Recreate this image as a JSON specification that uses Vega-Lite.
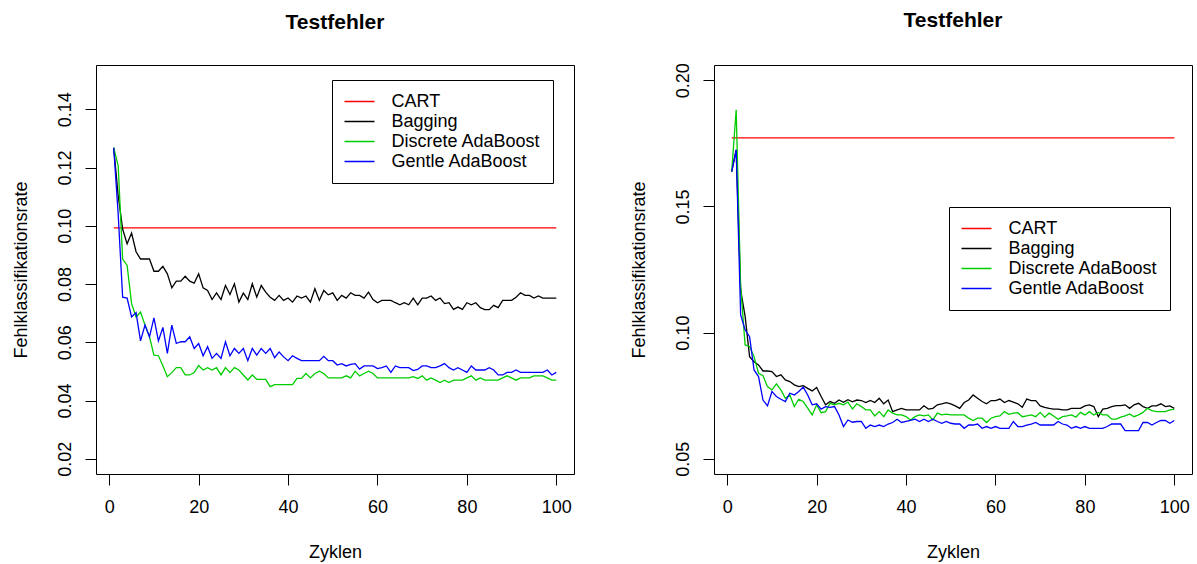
{
  "$schema": "https://vega.github.io/schema/vega-lite/v6.json",
  "background": "white",
  "padding": {"left": 11, "top": 9, "right": 0, "bottom": 0},
  "spacing": 54,
  "datasets": {
    "links": [
      {"Zyklen":1,"CART":0.0993,"Bagging":0.1268,"Discrete AdaBoost":0.1268,"Gentle AdaBoost":0.1268},
      {"Zyklen":2,"CART":0.0993,"Bagging":0.1103,"Discrete AdaBoost":0.1206,"Gentle AdaBoost":0.104},
      {"Zyklen":3,"CART":0.0993,"Bagging":0.0989,"Discrete AdaBoost":0.0886,"Gentle AdaBoost":0.0755},
      {"Zyklen":4,"CART":0.0993,"Bagging":0.0938,"Discrete AdaBoost":0.0864,"Gentle AdaBoost":0.0752},
      {"Zyklen":5,"CART":0.0993,"Bagging":0.0975,"Discrete AdaBoost":0.0733,"Gentle AdaBoost":0.0687},
      {"Zyklen":6,"CART":0.0993,"Bagging":0.0911,"Discrete AdaBoost":0.0687,"Gentle AdaBoost":0.0702},
      {"Zyklen":7,"CART":0.0993,"Bagging":0.0886,"Discrete AdaBoost":0.0704,"Gentle AdaBoost":0.0605},
      {"Zyklen":8,"CART":0.0993,"Bagging":0.0886,"Discrete AdaBoost":0.0659,"Gentle AdaBoost":0.0659},
      {"Zyklen":9,"CART":0.0993,"Bagging":0.0886,"Discrete AdaBoost":0.0619,"Gentle AdaBoost":0.0619},
      {"Zyklen":10,"CART":0.0993,"Bagging":0.0844,"Discrete AdaBoost":0.0556,"Gentle AdaBoost":0.0684},
      {"Zyklen":11,"CART":0.0993,"Bagging":0.0844,"Discrete AdaBoost":0.0554,"Gentle AdaBoost":0.0605},
      {"Zyklen":12,"CART":0.0993,"Bagging":0.0861,"Discrete AdaBoost":0.0520,"Gentle AdaBoost":0.0651},
      {"Zyklen":13,"CART":0.0993,"Bagging":0.0835,"Discrete AdaBoost":0.0482,"Gentle AdaBoost":0.0562},
      {"Zyklen":14,"CART":0.0993,"Bagging":0.0787,"Discrete AdaBoost":0.0496,"Gentle AdaBoost":0.0659},
      {"Zyklen":15,"CART":0.0993,"Bagging":0.0810,"Discrete AdaBoost":0.0513,"Gentle AdaBoost":0.0596},
      {"Zyklen":16,"CART":0.0993,"Bagging":0.0810,"Discrete AdaBoost":0.0513,"Gentle AdaBoost":0.0602},
      {"Zyklen":17,"CART":0.0993,"Bagging":0.0827,"Discrete AdaBoost":0.0488,"Gentle AdaBoost":0.0602},
      {"Zyklen":18,"CART":0.0993,"Bagging":0.0810,"Discrete AdaBoost":0.0488,"Gentle AdaBoost":0.0619},
      {"Zyklen":19,"CART":0.0993,"Bagging":0.0803,"Discrete AdaBoost":0.0496,"Gentle AdaBoost":0.0579},
      {"Zyklen":20,"CART":0.0993,"Bagging":0.0835,"Discrete AdaBoost":0.0520,"Gentle AdaBoost":0.0596},
      {"Zyklen":21,"CART":0.0993,"Bagging":0.0787,"Discrete AdaBoost":0.0505,"Gentle AdaBoost":0.0554},
      {"Zyklen":22,"CART":0.0993,"Bagging":0.0778,"Discrete AdaBoost":0.0513,"Gentle AdaBoost":0.0585},
      {"Zyklen":23,"CART":0.0993,"Bagging":0.0747,"Discrete AdaBoost":0.0505,"Gentle AdaBoost":0.0545},
      {"Zyklen":24,"CART":0.0993,"Bagging":0.0770,"Discrete AdaBoost":0.0513,"Gentle AdaBoost":0.0562},
      {"Zyklen":25,"CART":0.0993,"Bagging":0.0747,"Discrete AdaBoost":0.0488,"Gentle AdaBoost":0.0545},
      {"Zyklen":26,"CART":0.0993,"Bagging":0.0795,"Discrete AdaBoost":0.0513,"Gentle AdaBoost":0.0602},
      {"Zyklen":27,"CART":0.0993,"Bagging":0.0764,"Discrete AdaBoost":0.0496,"Gentle AdaBoost":0.0554},
      {"Zyklen":28,"CART":0.0993,"Bagging":0.0801,"Discrete AdaBoost":0.0513,"Gentle AdaBoost":0.0579},
      {"Zyklen":29,"CART":0.0993,"Bagging":0.0738,"Discrete AdaBoost":0.0505,"Gentle AdaBoost":0.0562},
      {"Zyklen":30,"CART":0.0993,"Bagging":0.0769,"Discrete AdaBoost":0.0488,"Gentle AdaBoost":0.0579},
      {"Zyklen":31,"CART":0.0993,"Bagging":0.0747,"Discrete AdaBoost":0.0471,"Gentle AdaBoost":0.0537},
      {"Zyklen":32,"CART":0.0993,"Bagging":0.0801,"Discrete AdaBoost":0.0488,"Gentle AdaBoost":0.0579},
      {"Zyklen":33,"CART":0.0993,"Bagging":0.0755,"Discrete AdaBoost":0.0473,"Gentle AdaBoost":0.0556},
      {"Zyklen":34,"CART":0.0993,"Bagging":0.0795,"Discrete AdaBoost":0.0473,"Gentle AdaBoost":0.0579},
      {"Zyklen":35,"CART":0.0993,"Bagging":0.0772,"Discrete AdaBoost":0.0473,"Gentle AdaBoost":0.0562},
      {"Zyklen":36,"CART":0.0993,"Bagging":0.0755,"Discrete AdaBoost":0.0448,"Gentle AdaBoost":0.0579},
      {"Zyklen":37,"CART":0.0993,"Bagging":0.0744,"Discrete AdaBoost":0.0455,"Gentle AdaBoost":0.0547},
      {"Zyklen":38,"CART":0.0993,"Bagging":0.0761,"Discrete AdaBoost":0.0455,"Gentle AdaBoost":0.0567},
      {"Zyklen":39,"CART":0.0993,"Bagging":0.0744,"Discrete AdaBoost":0.0455,"Gentle AdaBoost":0.0550},
      {"Zyklen":40,"CART":0.0993,"Bagging":0.0752,"Discrete AdaBoost":0.0455,"Gentle AdaBoost":0.0537},
      {"Zyklen":41,"CART":0.0993,"Bagging":0.0738,"Discrete AdaBoost":0.0455,"Gentle AdaBoost":0.0554},
      {"Zyklen":42,"CART":0.0993,"Bagging":0.0759,"Discrete AdaBoost":0.0476,"Gentle AdaBoost":0.0545},
      {"Zyklen":43,"CART":0.0993,"Bagging":0.0752,"Discrete AdaBoost":0.0476,"Gentle AdaBoost":0.0537},
      {"Zyklen":44,"CART":0.0993,"Bagging":0.0759,"Discrete AdaBoost":0.0493,"Gentle AdaBoost":0.0537},
      {"Zyklen":45,"CART":0.0993,"Bagging":0.0738,"Discrete AdaBoost":0.0478,"Gentle AdaBoost":0.0537},
      {"Zyklen":46,"CART":0.0993,"Bagging":0.0784,"Discrete AdaBoost":0.0493,"Gentle AdaBoost":0.0537},
      {"Zyklen":47,"CART":0.0993,"Bagging":0.0744,"Discrete AdaBoost":0.0501,"Gentle AdaBoost":0.0537},
      {"Zyklen":48,"CART":0.0993,"Bagging":0.0778,"Discrete AdaBoost":0.0493,"Gentle AdaBoost":0.0552},
      {"Zyklen":49,"CART":0.0993,"Bagging":0.0763,"Discrete AdaBoost":0.0478,"Gentle AdaBoost":0.0537},
      {"Zyklen":50,"CART":0.0993,"Bagging":0.0770,"Discrete AdaBoost":0.0478,"Gentle AdaBoost":0.0537},
      {"Zyklen":51,"CART":0.0993,"Bagging":0.0744,"Discrete AdaBoost":0.0478,"Gentle AdaBoost":0.0522},
      {"Zyklen":52,"CART":0.0993,"Bagging":0.0761,"Discrete AdaBoost":0.0478,"Gentle AdaBoost":0.0527},
      {"Zyklen":53,"CART":0.0993,"Bagging":0.0752,"Discrete AdaBoost":0.0485,"Gentle AdaBoost":0.0519},
      {"Zyklen":54,"CART":0.0993,"Bagging":0.0770,"Discrete AdaBoost":0.0478,"Gentle AdaBoost":0.0524},
      {"Zyklen":55,"CART":0.0993,"Bagging":0.0761,"Discrete AdaBoost":0.0501,"Gentle AdaBoost":0.0527},
      {"Zyklen":56,"CART":0.0993,"Bagging":0.0761,"Discrete AdaBoost":0.0485,"Gentle AdaBoost":0.0508},
      {"Zyklen":57,"CART":0.0993,"Bagging":0.0752,"Discrete AdaBoost":0.0493,"Gentle AdaBoost":0.0519},
      {"Zyklen":58,"CART":0.0993,"Bagging":0.0772,"Discrete AdaBoost":0.0501,"Gentle AdaBoost":0.0519},
      {"Zyklen":59,"CART":0.0993,"Bagging":0.0747,"Discrete AdaBoost":0.0493,"Gentle AdaBoost":0.0519},
      {"Zyklen":60,"CART":0.0993,"Bagging":0.0736,"Discrete AdaBoost":0.0478,"Gentle AdaBoost":0.0510},
      {"Zyklen":61,"CART":0.0993,"Bagging":0.0744,"Discrete AdaBoost":0.0478,"Gentle AdaBoost":0.0513},
      {"Zyklen":62,"CART":0.0993,"Bagging":0.0744,"Discrete AdaBoost":0.0478,"Gentle AdaBoost":0.0519},
      {"Zyklen":63,"CART":0.0993,"Bagging":0.0744,"Discrete AdaBoost":0.0478,"Gentle AdaBoost":0.0497},
      {"Zyklen":64,"CART":0.0993,"Bagging":0.0736,"Discrete AdaBoost":0.0478,"Gentle AdaBoost":0.0519},
      {"Zyklen":65,"CART":0.0993,"Bagging":0.0729,"Discrete AdaBoost":0.0478,"Gentle AdaBoost":0.0513},
      {"Zyklen":66,"CART":0.0993,"Bagging":0.0736,"Discrete AdaBoost":0.0478,"Gentle AdaBoost":0.0513},
      {"Zyklen":67,"CART":0.0993,"Bagging":0.0729,"Discrete AdaBoost":0.0478,"Gentle AdaBoost":0.0513},
      {"Zyklen":68,"CART":0.0993,"Bagging":0.0752,"Discrete AdaBoost":0.0482,"Gentle AdaBoost":0.0503},
      {"Zyklen":69,"CART":0.0993,"Bagging":0.0729,"Discrete AdaBoost":0.0476,"Gentle AdaBoost":0.0507},
      {"Zyklen":70,"CART":0.0993,"Bagging":0.0752,"Discrete AdaBoost":0.0485,"Gentle AdaBoost":0.0519},
      {"Zyklen":71,"CART":0.0993,"Bagging":0.0752,"Discrete AdaBoost":0.0470,"Gentle AdaBoost":0.0519},
      {"Zyklen":72,"CART":0.0993,"Bagging":0.0759,"Discrete AdaBoost":0.0478,"Gentle AdaBoost":0.0513},
      {"Zyklen":73,"CART":0.0993,"Bagging":0.0744,"Discrete AdaBoost":0.0470,"Gentle AdaBoost":0.0513},
      {"Zyklen":74,"CART":0.0993,"Bagging":0.0752,"Discrete AdaBoost":0.0462,"Gentle AdaBoost":0.0519},
      {"Zyklen":75,"CART":0.0993,"Bagging":0.0733,"Discrete AdaBoost":0.0470,"Gentle AdaBoost":0.0527},
      {"Zyklen":76,"CART":0.0993,"Bagging":0.0736,"Discrete AdaBoost":0.0462,"Gentle AdaBoost":0.0513},
      {"Zyklen":77,"CART":0.0993,"Bagging":0.0713,"Discrete AdaBoost":0.0470,"Gentle AdaBoost":0.0505},
      {"Zyklen":78,"CART":0.0993,"Bagging":0.0721,"Discrete AdaBoost":0.0470,"Gentle AdaBoost":0.0513},
      {"Zyklen":79,"CART":0.0993,"Bagging":0.0713,"Discrete AdaBoost":0.0470,"Gentle AdaBoost":0.0505},
      {"Zyklen":80,"CART":0.0993,"Bagging":0.0736,"Discrete AdaBoost":0.0478,"Gentle AdaBoost":0.0497},
      {"Zyklen":81,"CART":0.0993,"Bagging":0.0729,"Discrete AdaBoost":0.0485,"Gentle AdaBoost":0.0519},
      {"Zyklen":82,"CART":0.0993,"Bagging":0.0736,"Discrete AdaBoost":0.0470,"Gentle AdaBoost":0.0505},
      {"Zyklen":83,"CART":0.0993,"Bagging":0.0719,"Discrete AdaBoost":0.0478,"Gentle AdaBoost":0.0505},
      {"Zyklen":84,"CART":0.0993,"Bagging":0.0712,"Discrete AdaBoost":0.0470,"Gentle AdaBoost":0.0505},
      {"Zyklen":85,"CART":0.0993,"Bagging":0.0712,"Discrete AdaBoost":0.0470,"Gentle AdaBoost":0.0513},
      {"Zyklen":86,"CART":0.0993,"Bagging":0.0727,"Discrete AdaBoost":0.0470,"Gentle AdaBoost":0.0505},
      {"Zyklen":87,"CART":0.0993,"Bagging":0.0719,"Discrete AdaBoost":0.0470,"Gentle AdaBoost":0.0488},
      {"Zyklen":88,"CART":0.0993,"Bagging":0.0744,"Discrete AdaBoost":0.0478,"Gentle AdaBoost":0.0488},
      {"Zyklen":89,"CART":0.0993,"Bagging":0.0744,"Discrete AdaBoost":0.0485,"Gentle AdaBoost":0.0497},
      {"Zyklen":90,"CART":0.0993,"Bagging":0.0744,"Discrete AdaBoost":0.0478,"Gentle AdaBoost":0.0497},
      {"Zyklen":91,"CART":0.0993,"Bagging":0.0755,"Discrete AdaBoost":0.0470,"Gentle AdaBoost":0.0505},
      {"Zyklen":92,"CART":0.0993,"Bagging":0.0770,"Discrete AdaBoost":0.0478,"Gentle AdaBoost":0.0497},
      {"Zyklen":93,"CART":0.0993,"Bagging":0.0761,"Discrete AdaBoost":0.0478,"Gentle AdaBoost":0.0497},
      {"Zyklen":94,"CART":0.0993,"Bagging":0.0761,"Discrete AdaBoost":0.0478,"Gentle AdaBoost":0.0497},
      {"Zyklen":95,"CART":0.0993,"Bagging":0.0752,"Discrete AdaBoost":0.0485,"Gentle AdaBoost":0.0497},
      {"Zyklen":96,"CART":0.0993,"Bagging":0.0759,"Discrete AdaBoost":0.0485,"Gentle AdaBoost":0.0497},
      {"Zyklen":97,"CART":0.0993,"Bagging":0.0752,"Discrete AdaBoost":0.0485,"Gentle AdaBoost":0.0497},
      {"Zyklen":98,"CART":0.0993,"Bagging":0.0752,"Discrete AdaBoost":0.0478,"Gentle AdaBoost":0.0505},
      {"Zyklen":99,"CART":0.0993,"Bagging":0.0752,"Discrete AdaBoost":0.0470,"Gentle AdaBoost":0.0488},
      {"Zyklen":100,"CART":0.0993,"Bagging":0.0752,"Discrete AdaBoost":0.0470,"Gentle AdaBoost":0.0497}
    ],
    "rechts": [
      {"Zyklen":1,"CART":0.1771,"Bagging":0.1638,"Discrete AdaBoost":0.1638,"Gentle AdaBoost":0.1638},
      {"Zyklen":2,"CART":0.1771,"Bagging":0.1724,"Discrete AdaBoost":0.1883,"Gentle AdaBoost":0.1724},
      {"Zyklen":3,"CART":0.1771,"Bagging":0.1169,"Discrete AdaBoost":0.1182,"Gentle AdaBoost":0.1070},
      {"Zyklen":4,"CART":0.1771,"Bagging":0.1064,"Discrete AdaBoost":0.0951,"Gentle AdaBoost":0.1011},
      {"Zyklen":5,"CART":0.1771,"Bagging":0.0905,"Discrete AdaBoost":0.0945,"Gentle AdaBoost":0.0984},
      {"Zyklen":6,"CART":0.1771,"Bagging":0.0885,"Discrete AdaBoost":0.0905,"Gentle AdaBoost":0.0852},
      {"Zyklen":7,"CART":0.1771,"Bagging":0.0872,"Discrete AdaBoost":0.0839,"Gentle AdaBoost":0.0826},
      {"Zyklen":8,"CART":0.1771,"Bagging":0.0848,"Discrete AdaBoost":0.0829,"Gentle AdaBoost":0.0733},
      {"Zyklen":9,"CART":0.1771,"Bagging":0.0848,"Discrete AdaBoost":0.0786,"Gentle AdaBoost":0.0710},
      {"Zyklen":10,"CART":0.1771,"Bagging":0.0846,"Discrete AdaBoost":0.0773,"Gentle AdaBoost":0.0767},
      {"Zyklen":11,"CART":0.1771,"Bagging":0.0826,"Discrete AdaBoost":0.0797,"Gentle AdaBoost":0.0747},
      {"Zyklen":12,"CART":0.1771,"Bagging":0.0833,"Discrete AdaBoost":0.0773,"Gentle AdaBoost":0.0736},
      {"Zyklen":13,"CART":0.1771,"Bagging":0.0813,"Discrete AdaBoost":0.0740,"Gentle AdaBoost":0.0727},
      {"Zyklen":14,"CART":0.1771,"Bagging":0.0806,"Discrete AdaBoost":0.0753,"Gentle AdaBoost":0.0760},
      {"Zyklen":15,"CART":0.1771,"Bagging":0.0793,"Discrete AdaBoost":0.0707,"Gentle AdaBoost":0.0753},
      {"Zyklen":16,"CART":0.1771,"Bagging":0.0786,"Discrete AdaBoost":0.0736,"Gentle AdaBoost":0.0767},
      {"Zyklen":17,"CART":0.1771,"Bagging":0.0790,"Discrete AdaBoost":0.0727,"Gentle AdaBoost":0.0784},
      {"Zyklen":18,"CART":0.1771,"Bagging":0.0779,"Discrete AdaBoost":0.0701,"Gentle AdaBoost":0.0753},
      {"Zyklen":19,"CART":0.1771,"Bagging":0.0769,"Discrete AdaBoost":0.0674,"Gentle AdaBoost":0.0714},
      {"Zyklen":20,"CART":0.1771,"Bagging":0.0783,"Discrete AdaBoost":0.0714,"Gentle AdaBoost":0.0718},
      {"Zyklen":21,"CART":0.1771,"Bagging":0.0747,"Discrete AdaBoost":0.0683,"Gentle AdaBoost":0.0697},
      {"Zyklen":22,"CART":0.1771,"Bagging":0.0714,"Discrete AdaBoost":0.0687,"Gentle AdaBoost":0.0707},
      {"Zyklen":23,"CART":0.1771,"Bagging":0.0727,"Discrete AdaBoost":0.0720,"Gentle AdaBoost":0.0704},
      {"Zyklen":24,"CART":0.1771,"Bagging":0.0720,"Discrete AdaBoost":0.0714,"Gentle AdaBoost":0.0707},
      {"Zyklen":25,"CART":0.1771,"Bagging":0.0733,"Discrete AdaBoost":0.0720,"Gentle AdaBoost":0.0674},
      {"Zyklen":26,"CART":0.1771,"Bagging":0.0724,"Discrete AdaBoost":0.0714,"Gentle AdaBoost":0.0628},
      {"Zyklen":27,"CART":0.1771,"Bagging":0.0734,"Discrete AdaBoost":0.0725,"Gentle AdaBoost":0.0654},
      {"Zyklen":28,"CART":0.1771,"Bagging":0.0726,"Discrete AdaBoost":0.0698,"Gentle AdaBoost":0.0645},
      {"Zyklen":29,"CART":0.1771,"Bagging":0.0733,"Discrete AdaBoost":0.0718,"Gentle AdaBoost":0.0648},
      {"Zyklen":30,"CART":0.1771,"Bagging":0.0731,"Discrete AdaBoost":0.0707,"Gentle AdaBoost":0.0648},
      {"Zyklen":31,"CART":0.1771,"Bagging":0.0723,"Discrete AdaBoost":0.0694,"Gentle AdaBoost":0.0621},
      {"Zyklen":32,"CART":0.1771,"Bagging":0.0731,"Discrete AdaBoost":0.0694,"Gentle AdaBoost":0.0634},
      {"Zyklen":33,"CART":0.1771,"Bagging":0.0723,"Discrete AdaBoost":0.0670,"Gentle AdaBoost":0.0628},
      {"Zyklen":34,"CART":0.1771,"Bagging":0.0740,"Discrete AdaBoost":0.0687,"Gentle AdaBoost":0.0634},
      {"Zyklen":35,"CART":0.1771,"Bagging":0.0718,"Discrete AdaBoost":0.0667,"Gentle AdaBoost":0.0628},
      {"Zyklen":36,"CART":0.1771,"Bagging":0.0733,"Discrete AdaBoost":0.0694,"Gentle AdaBoost":0.0638},
      {"Zyklen":37,"CART":0.1771,"Bagging":0.0687,"Discrete AdaBoost":0.0681,"Gentle AdaBoost":0.0644},
      {"Zyklen":38,"CART":0.1771,"Bagging":0.0694,"Discrete AdaBoost":0.0674,"Gentle AdaBoost":0.0657},
      {"Zyklen":39,"CART":0.1771,"Bagging":0.0700,"Discrete AdaBoost":0.0674,"Gentle AdaBoost":0.0644},
      {"Zyklen":40,"CART":0.1771,"Bagging":0.0694,"Discrete AdaBoost":0.0667,"Gentle AdaBoost":0.0648},
      {"Zyklen":41,"CART":0.1771,"Bagging":0.0694,"Discrete AdaBoost":0.0654,"Gentle AdaBoost":0.0652},
      {"Zyklen":42,"CART":0.1771,"Bagging":0.0694,"Discrete AdaBoost":0.0667,"Gentle AdaBoost":0.0657},
      {"Zyklen":43,"CART":0.1771,"Bagging":0.0694,"Discrete AdaBoost":0.0674,"Gentle AdaBoost":0.0648},
      {"Zyklen":44,"CART":0.1771,"Bagging":0.0710,"Discrete AdaBoost":0.0670,"Gentle AdaBoost":0.0657},
      {"Zyklen":45,"CART":0.1771,"Bagging":0.0697,"Discrete AdaBoost":0.0674,"Gentle AdaBoost":0.0648},
      {"Zyklen":46,"CART":0.1771,"Bagging":0.0700,"Discrete AdaBoost":0.0654,"Gentle AdaBoost":0.0657},
      {"Zyklen":47,"CART":0.1771,"Bagging":0.0714,"Discrete AdaBoost":0.0681,"Gentle AdaBoost":0.0648},
      {"Zyklen":48,"CART":0.1771,"Bagging":0.0718,"Discrete AdaBoost":0.0674,"Gentle AdaBoost":0.0641},
      {"Zyklen":49,"CART":0.1771,"Bagging":0.0723,"Discrete AdaBoost":0.0677,"Gentle AdaBoost":0.0648},
      {"Zyklen":50,"CART":0.1771,"Bagging":0.0718,"Discrete AdaBoost":0.0674,"Gentle AdaBoost":0.0641},
      {"Zyklen":51,"CART":0.1771,"Bagging":0.0710,"Discrete AdaBoost":0.0674,"Gentle AdaBoost":0.0638},
      {"Zyklen":52,"CART":0.1771,"Bagging":0.0700,"Discrete AdaBoost":0.0674,"Gentle AdaBoost":0.0638},
      {"Zyklen":53,"CART":0.1771,"Bagging":0.0723,"Discrete AdaBoost":0.0674,"Gentle AdaBoost":0.0621},
      {"Zyklen":54,"CART":0.1771,"Bagging":0.0733,"Discrete AdaBoost":0.0661,"Gentle AdaBoost":0.0634},
      {"Zyklen":55,"CART":0.1771,"Bagging":0.0753,"Discrete AdaBoost":0.0652,"Gentle AdaBoost":0.0634},
      {"Zyklen":56,"CART":0.1771,"Bagging":0.0740,"Discrete AdaBoost":0.0661,"Gentle AdaBoost":0.0638},
      {"Zyklen":57,"CART":0.1771,"Bagging":0.0727,"Discrete AdaBoost":0.0661,"Gentle AdaBoost":0.0621},
      {"Zyklen":58,"CART":0.1771,"Bagging":0.0718,"Discrete AdaBoost":0.0644,"Gentle AdaBoost":0.0628},
      {"Zyklen":59,"CART":0.1771,"Bagging":0.0731,"Discrete AdaBoost":0.0661,"Gentle AdaBoost":0.0621},
      {"Zyklen":60,"CART":0.1771,"Bagging":0.0731,"Discrete AdaBoost":0.0667,"Gentle AdaBoost":0.0628},
      {"Zyklen":61,"CART":0.1771,"Bagging":0.0737,"Discrete AdaBoost":0.0670,"Gentle AdaBoost":0.0621},
      {"Zyklen":62,"CART":0.1771,"Bagging":0.0723,"Discrete AdaBoost":0.0687,"Gentle AdaBoost":0.0621},
      {"Zyklen":63,"CART":0.1771,"Bagging":0.0731,"Discrete AdaBoost":0.0676,"Gentle AdaBoost":0.0621},
      {"Zyklen":64,"CART":0.1771,"Bagging":0.0725,"Discrete AdaBoost":0.0681,"Gentle AdaBoost":0.0648},
      {"Zyklen":65,"CART":0.1771,"Bagging":0.0718,"Discrete AdaBoost":0.0683,"Gentle AdaBoost":0.0628},
      {"Zyklen":66,"CART":0.1771,"Bagging":0.0704,"Discrete AdaBoost":0.0667,"Gentle AdaBoost":0.0628},
      {"Zyklen":67,"CART":0.1771,"Bagging":0.0737,"Discrete AdaBoost":0.0670,"Gentle AdaBoost":0.0634},
      {"Zyklen":68,"CART":0.1771,"Bagging":0.0731,"Discrete AdaBoost":0.0674,"Gentle AdaBoost":0.0638},
      {"Zyklen":69,"CART":0.1771,"Bagging":0.0731,"Discrete AdaBoost":0.0667,"Gentle AdaBoost":0.0644},
      {"Zyklen":70,"CART":0.1771,"Bagging":0.0710,"Discrete AdaBoost":0.0684,"Gentle AdaBoost":0.0634},
      {"Zyklen":71,"CART":0.1771,"Bagging":0.0704,"Discrete AdaBoost":0.0665,"Gentle AdaBoost":0.0634},
      {"Zyklen":72,"CART":0.1771,"Bagging":0.0700,"Discrete AdaBoost":0.0681,"Gentle AdaBoost":0.0634},
      {"Zyklen":73,"CART":0.1771,"Bagging":0.0697,"Discrete AdaBoost":0.0670,"Gentle AdaBoost":0.0634},
      {"Zyklen":74,"CART":0.1771,"Bagging":0.0697,"Discrete AdaBoost":0.0657,"Gentle AdaBoost":0.0648},
      {"Zyklen":75,"CART":0.1771,"Bagging":0.0694,"Discrete AdaBoost":0.0667,"Gentle AdaBoost":0.0638},
      {"Zyklen":76,"CART":0.1771,"Bagging":0.0694,"Discrete AdaBoost":0.0670,"Gentle AdaBoost":0.0634},
      {"Zyklen":77,"CART":0.1771,"Bagging":0.0700,"Discrete AdaBoost":0.0674,"Gentle AdaBoost":0.0621},
      {"Zyklen":78,"CART":0.1771,"Bagging":0.0700,"Discrete AdaBoost":0.0665,"Gentle AdaBoost":0.0628},
      {"Zyklen":79,"CART":0.1771,"Bagging":0.0700,"Discrete AdaBoost":0.0684,"Gentle AdaBoost":0.0621},
      {"Zyklen":80,"CART":0.1771,"Bagging":0.0710,"Discrete AdaBoost":0.0674,"Gentle AdaBoost":0.0628},
      {"Zyklen":81,"CART":0.1771,"Bagging":0.0714,"Discrete AdaBoost":0.0687,"Gentle AdaBoost":0.0621},
      {"Zyklen":82,"CART":0.1771,"Bagging":0.0707,"Discrete AdaBoost":0.0674,"Gentle AdaBoost":0.0621},
      {"Zyklen":83,"CART":0.1771,"Bagging":0.0667,"Discrete AdaBoost":0.0684,"Gentle AdaBoost":0.0621},
      {"Zyklen":84,"CART":0.1771,"Bagging":0.0697,"Discrete AdaBoost":0.0674,"Gentle AdaBoost":0.0621},
      {"Zyklen":85,"CART":0.1771,"Bagging":0.0700,"Discrete AdaBoost":0.0674,"Gentle AdaBoost":0.0628},
      {"Zyklen":86,"CART":0.1771,"Bagging":0.0707,"Discrete AdaBoost":0.0657,"Gentle AdaBoost":0.0638},
      {"Zyklen":87,"CART":0.1771,"Bagging":0.0711,"Discrete AdaBoost":0.0657,"Gentle AdaBoost":0.0638},
      {"Zyklen":88,"CART":0.1771,"Bagging":0.0711,"Discrete AdaBoost":0.0665,"Gentle AdaBoost":0.0638},
      {"Zyklen":89,"CART":0.1771,"Bagging":0.0714,"Discrete AdaBoost":0.0670,"Gentle AdaBoost":0.0612},
      {"Zyklen":90,"CART":0.1771,"Bagging":0.0700,"Discrete AdaBoost":0.0678,"Gentle AdaBoost":0.0612},
      {"Zyklen":91,"CART":0.1771,"Bagging":0.0714,"Discrete AdaBoost":0.0667,"Gentle AdaBoost":0.0612},
      {"Zyklen":92,"CART":0.1771,"Bagging":0.0720,"Discrete AdaBoost":0.0674,"Gentle AdaBoost":0.0612},
      {"Zyklen":93,"CART":0.1771,"Bagging":0.0707,"Discrete AdaBoost":0.0684,"Gentle AdaBoost":0.0644},
      {"Zyklen":94,"CART":0.1771,"Bagging":0.0700,"Discrete AdaBoost":0.0700,"Gentle AdaBoost":0.0644},
      {"Zyklen":95,"CART":0.1771,"Bagging":0.0710,"Discrete AdaBoost":0.0691,"Gentle AdaBoost":0.0634},
      {"Zyklen":96,"CART":0.1771,"Bagging":0.0710,"Discrete AdaBoost":0.0687,"Gentle AdaBoost":0.0644},
      {"Zyklen":97,"CART":0.1771,"Bagging":0.0718,"Discrete AdaBoost":0.0687,"Gentle AdaBoost":0.0652},
      {"Zyklen":98,"CART":0.1771,"Bagging":0.0707,"Discrete AdaBoost":0.0687,"Gentle AdaBoost":0.0652},
      {"Zyklen":99,"CART":0.1771,"Bagging":0.0710,"Discrete AdaBoost":0.0694,"Gentle AdaBoost":0.0641},
      {"Zyklen":100,"CART":0.1771,"Bagging":0.0700,"Discrete AdaBoost":0.0696,"Gentle AdaBoost":0.0652}
    ]
  },
  "hconcat": [
    {
      "width": 478,
      "height": 409,
      "title": {"text": "Testfehler"},
      "data": {"name": "links"},
      "transform": [{"fold": ["CART", "Bagging", "Discrete AdaBoost", "Gentle AdaBoost"], "as": ["Modell", "Rate"]}],
      "mark": {"type": "line", "strokeWidth": 1.3},
      "encoding": {
        "x": {"field": "Zyklen", "type": "quantitative", "scale": {"domain": [-2.96, 103.96], "nice": false, "zero": false}, "axis": {"values": [0, 20, 40, 60, 80, 100], "title": "Zyklen"}},
        "y": {"field": "Rate", "type": "quantitative", "scale": {"domain": [0.0148, 0.1552], "nice": false, "zero": false}, "axis": {"values": [0.02, 0.04, 0.06, 0.08, 0.10, 0.12, 0.14], "format": ".2f", "title": "Fehlklassifikationsrate"}},
        "color": {"field": "Modell", "type": "nominal", "scale": {"domain": ["CART", "Bagging", "Discrete AdaBoost", "Gentle AdaBoost"], "range": ["#FF0000", "#000000", "#00CD00", "#0000FF"]}, "legend": {"title": null, "orient": "none", "legendX": 236, "legendY": 15}}
      }
    },
    {
      "width": 478,
      "height": 409,
      "title": {"text": "Testfehler"},
      "data": {"name": "rechts"},
      "transform": [{"fold": ["CART", "Bagging", "Discrete AdaBoost", "Gentle AdaBoost"], "as": ["Modell", "Rate"]}],
      "mark": {"type": "line", "strokeWidth": 1.3},
      "encoding": {
        "x": {"field": "Zyklen", "type": "quantitative", "scale": {"domain": [-2.96, 103.96], "nice": false, "zero": false}, "axis": {"values": [0, 20, 40, 60, 80, 100], "title": "Zyklen"}},
        "y": {"field": "Rate", "type": "quantitative", "scale": {"domain": [0.044, 0.206], "nice": false, "zero": false}, "axis": {"values": [0.05, 0.10, 0.15, 0.20], "format": ".2f", "title": "Fehlklassifikationsrate"}},
        "color": {"field": "Modell", "type": "nominal", "scale": {"domain": ["CART", "Bagging", "Discrete AdaBoost", "Gentle AdaBoost"], "range": ["#FF0000", "#000000", "#00CD00", "#0000FF"]}, "legend": {"title": null, "orient": "none", "legendX": 235, "legendY": 142}}
      }
    }
  ],
  "resolve": {"scale": {"color": "independent", "x": "independent", "y": "independent"}, "legend": {"color": "independent"}},
  "config": {
    "font": "Liberation Sans",
    "view": {"stroke": "black", "strokeWidth": 1},
    "axis": {"domain": false, "grid": false, "ticks": true, "tickColor": "black", "tickSize": 11, "tickWidth": 1, "labelFontSize": 18, "titleFontSize": 18, "titleFontWeight": "normal", "labelColor": "black", "titleColor": "black", "labelFont": "Liberation Sans", "titleFont": "Liberation Sans", "labelFlush": false, "labelOverlap": false},
    "axisX": {"labelPadding": 13, "titlePadding": 27, "labelBaseline": "top"},
    "axisY": {"labelAngle": -90, "labelAlign": "center", "labelBaseline": "alphabetic", "labelPadding": 15, "titlePadding": 26},
    "title": {"fontSize": 21, "fontWeight": "bold", "font": "Liberation Sans", "offset": 32, "color": "black", "frame": "group", "anchor": "middle"},
    "legend": {"strokeColor": "black", "strokeWidth": 1, "fillColor": "white", "padding": 11.5, "symbolType": "stroke", "symbolSize": 900, "symbolStrokeWidth": 1.3, "clipHeight": 20, "rowPadding": 0, "labelFontSize": 18, "labelOffset": 16, "labelFont": "Liberation Sans", "labelColor": "black", "labelLimit": 300}
  }
}
